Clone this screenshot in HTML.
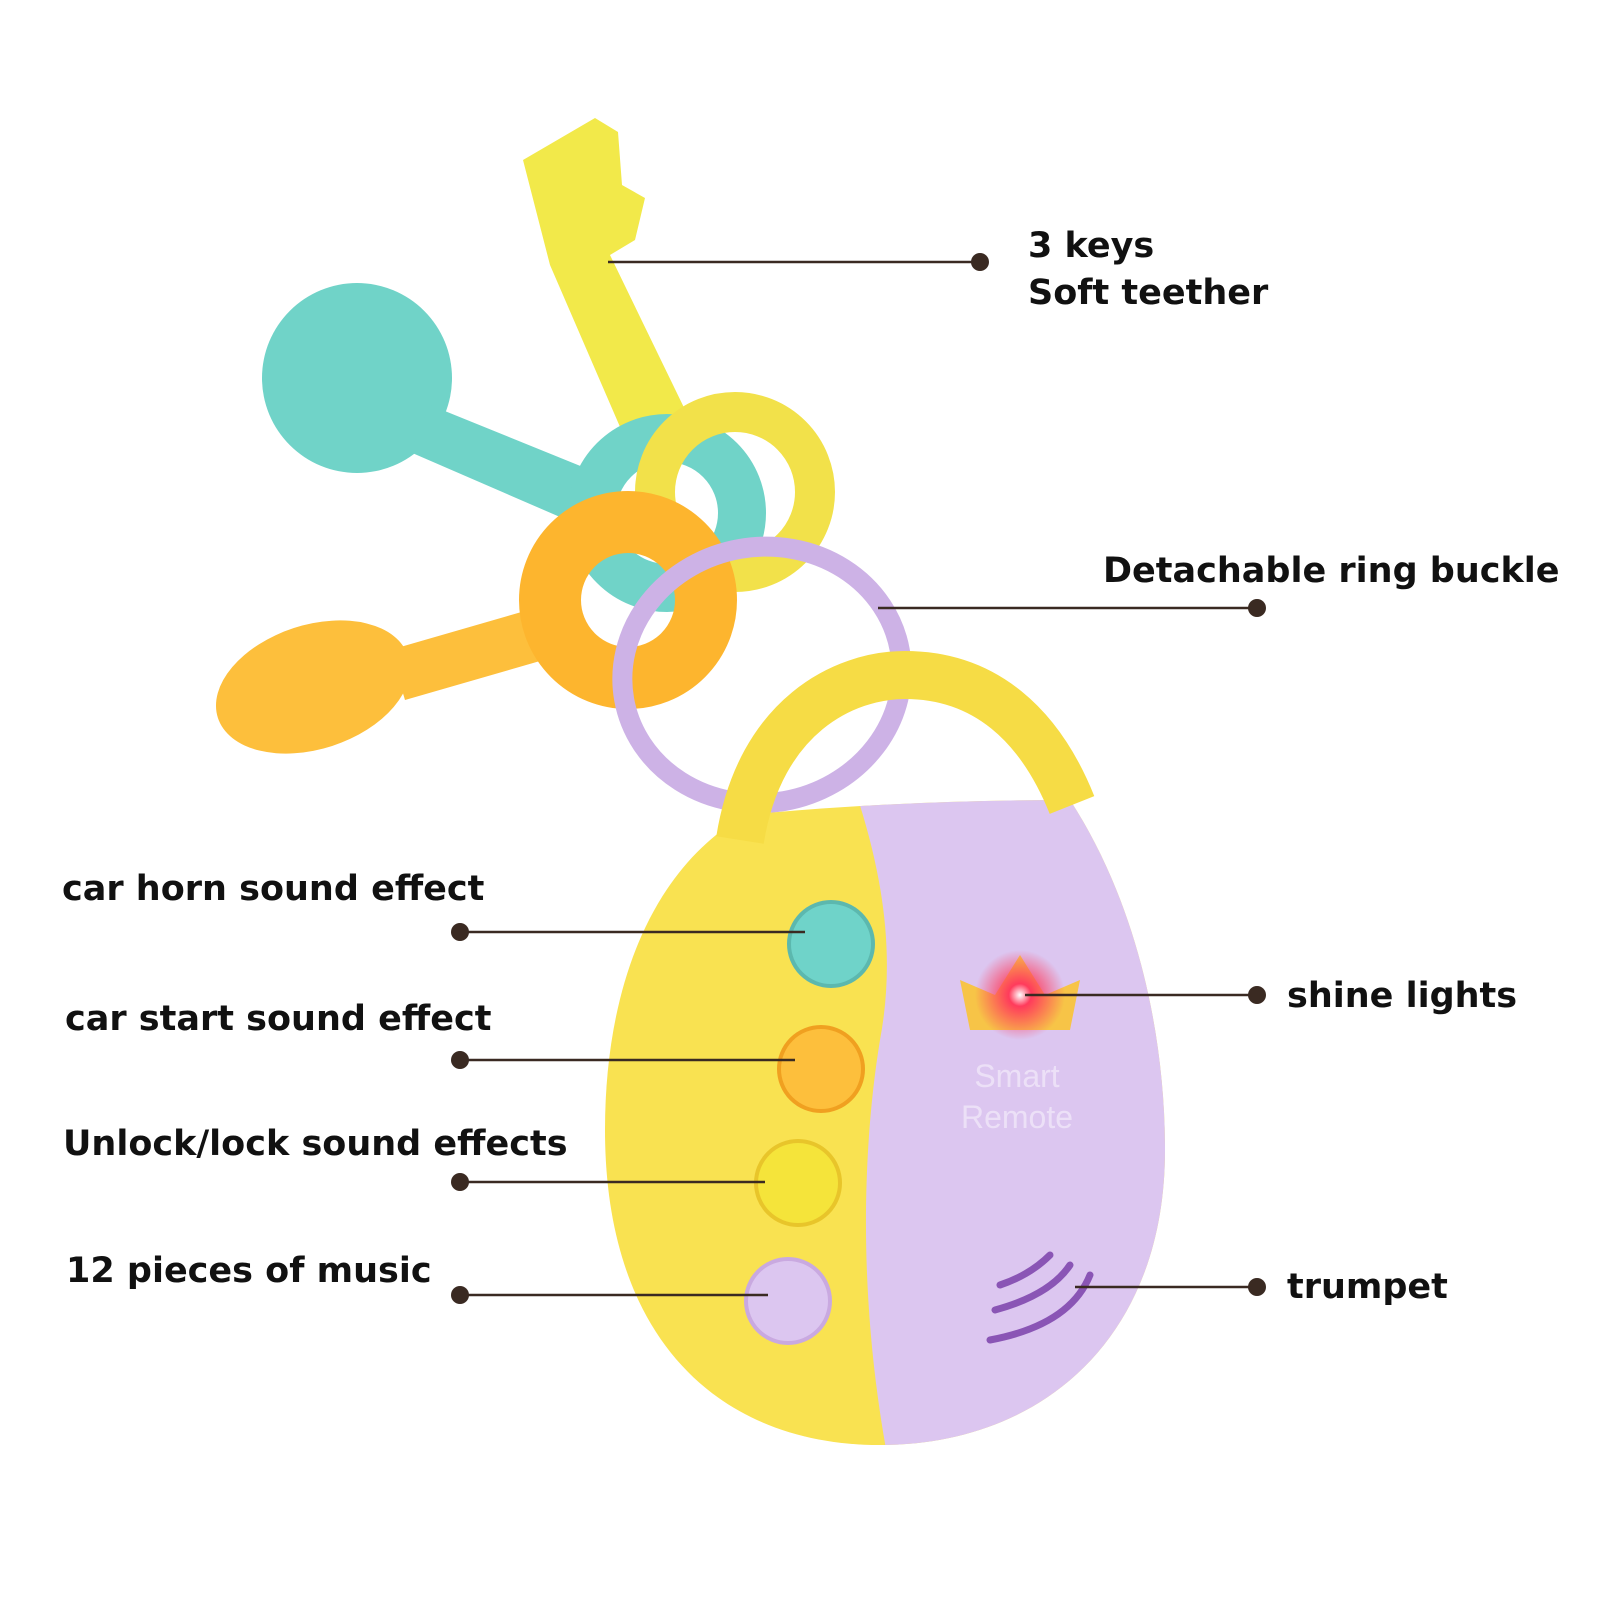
<!DOCTYPE html>
<html><head><meta charset="utf-8"><style>
html,body{margin:0;padding:0;background:#fff;}
svg{display:block}
text.l{font-family:"DejaVu Sans","Liberation Sans",sans-serif;font-weight:bold;font-size:35px;fill:#111}
</style></head><body>
<svg width="1600" height="1600" viewBox="0 0 1600 1600" xmlns="http://www.w3.org/2000/svg">
<defs>
<radialGradient id="glow"><stop offset="0" stop-color="#fff"/><stop offset="0.25" stop-color="#ff3b5c"/><stop offset="1" stop-color="#ff3b5c" stop-opacity="0"/></radialGradient>
<clipPath id="egg"><path d="M745,815 Q900,800 1070,800 C1135,900 1165,1030 1165,1150 C1165,1340 1040,1445 880,1445 C720,1445 605,1340 605,1130 C605,990 650,870 745,815 Z"/></clipPath>
</defs>
<rect width="1600" height="1600" fill="#fff"/>
<!-- yellow key -->
<path d="M523,160 L595,118 L618,132 L622,185 L645,198 L635,240 L610,255 L690,420 L630,450 L550,265 Z" fill="#f2e94a"/>
<!-- teal key -->
<circle cx="357" cy="378" r="95" fill="#70d3c8"/>
<path d="M430,405 L610,478 L590,530 L410,452 Z" fill="#70d3c8"/>
<circle cx="667" cy="513" r="75" fill="none" stroke="#70d3c8" stroke-width="48"/>
<!-- yellow ring -->
<circle cx="735" cy="492" r="80" fill="none" stroke="#f2e14a" stroke-width="40"/>
<!-- orange key -->
<ellipse cx="313" cy="687" rx="100" ry="62" transform="rotate(-18 313 687)" fill="#fdbf3c"/>
<path d="M390,650 L570,598 L585,648 L405,700 Z" fill="#fdbf3c"/>
<circle cx="628" cy="600" r="78" fill="none" stroke="#fdb52e" stroke-width="62"/>
<!-- purple ring -->
<ellipse cx="762" cy="675" rx="140" ry="128" transform="rotate(-10 762 675)" fill="none" stroke="#cdb2e6" stroke-width="20"/>
<!-- body -->
<g clip-path="url(#egg)">
<rect x="590" y="640" width="600" height="820" fill="#f9e251"/>
<path d="M855,790 C885,880 895,960 880,1040 C862,1150 858,1300 888,1460 L1200,1460 L1200,790 Z" fill="#dcc6f0"/>
</g>
<path d="M740,840 C760,715 845,675 905,675 C985,675 1040,725 1072,805" fill="none" stroke="#f6dc45" stroke-width="48"/>
<!-- buttons -->
<circle cx="831" cy="944" r="42" fill="#6fd3c9" stroke="#5cb8ae" stroke-width="4"/>
<circle cx="821" cy="1069" r="42" fill="#fdbf3c" stroke="#f0a020" stroke-width="4"/>
<circle cx="798" cy="1183" r="42" fill="#f5e43a" stroke="#e8c52a" stroke-width="4"/>
<circle cx="788" cy="1301" r="42" fill="#dcc6f0" stroke="#c9a9e0" stroke-width="4"/>
<!-- crown -->
<path d="M970,1030 L960,980 L995,995 L1020,955 L1045,995 L1080,980 L1070,1030 Z" fill="#f7c447"/>
<circle cx="1020" cy="995" r="45" fill="url(#glow)"/>
<text x="1017" y="1087" font-family="Liberation Sans,sans-serif" font-size="32" fill="#ece0f7" text-anchor="middle">Smart</text>
<text x="1017" y="1128" font-family="Liberation Sans,sans-serif" font-size="32" fill="#ece0f7" text-anchor="middle">Remote</text>
<!-- speaker -->
<g fill="none" stroke="#8a55b5" stroke-width="7" stroke-linecap="round">
<path d="M1000,1285 Q1030,1275 1050,1255"/>
<path d="M995,1310 Q1050,1295 1070,1265"/>
<path d="M990,1340 Q1070,1325 1090,1275"/>
</g>
<!-- lines -->
<g stroke="#3a2a22" stroke-width="2.5">
<line x1="608" y1="262" x2="980" y2="262"/>
<line x1="878" y1="608" x2="1257" y2="608"/>
<line x1="460" y1="932" x2="805" y2="932"/>
<line x1="460" y1="1060" x2="795" y2="1060"/>
<line x1="460" y1="1182" x2="765" y2="1182"/>
<line x1="460" y1="1295" x2="768" y2="1295"/>
<line x1="1025" y1="995" x2="1257" y2="995"/>
<line x1="1075" y1="1287" x2="1257" y2="1287"/>
</g>
<g fill="#3a2a22">
<circle cx="980" cy="262" r="9"/><circle cx="1257" cy="608" r="9"/>
<circle cx="460" cy="932" r="9"/><circle cx="460" cy="1060" r="9"/>
<circle cx="460" cy="1182" r="9"/><circle cx="460" cy="1295" r="9"/>
<circle cx="1257" cy="995" r="9"/><circle cx="1257" cy="1287" r="9"/>
</g>
<text class="l" x="1028" y="257">3 keys</text>
<text class="l" x="1028" y="304">Soft teether</text>
<text class="l" x="1103" y="582">Detachable ring buckle</text>
<text class="l" x="62" y="900">car horn sound effect</text>
<text class="l" x="65" y="1030">car start sound effect</text>
<text class="l" x="63" y="1155">Unlock/lock sound effects</text>
<text class="l" x="66" y="1282">12 pieces of music</text>
<text class="l" x="1287" y="1007">shine lights</text>
<text class="l" x="1287" y="1298">trumpet</text>
</svg>
</body></html>
